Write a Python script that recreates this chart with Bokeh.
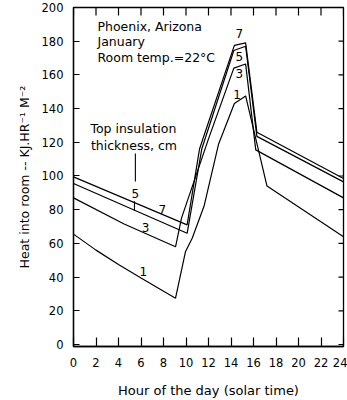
from bokeh.plotting import figure
from bokeh.models import FixedTicker, Label
from bokeh.embed import file_html
from bokeh.resources import INLINE

# ---- data ----
x_ticks = [0, 2, 4, 6, 8, 10, 12, 14, 16, 18, 20, 22, 24]
y_ticks = [0, 20, 40, 60, 80, 100, 120, 140, 160, 180, 200]

h1 = [0, 2, 4, 6, 9.07, 9.95, 10.55, 11.6, 12.9, 14.3, 15.3, 17.2, 24]
v1 = [65.5, 56, 47.5, 39.5, 27.5, 55, 63, 82, 119, 143, 147.5, 94, 64]

h3 = [0, 4.5, 9.07, 9.6, 12.0, 14.25, 15.3, 16.2, 24]
v3 = [87, 71.5, 58, 75, 122, 164, 166.5, 115.5, 87]

h5 = [0, 10.1, 11.4, 14.25, 15.3, 16.3, 24]
v5 = [95.5, 66, 116, 174.5, 177, 123.5, 96.5]

h7 = [0, 10.1, 11.2, 14.3, 15.3, 16.3, 24]
v7 = [99.5, 71, 116, 177.5, 179, 126, 98.5]

FONT = "DejaVu Sans"
X0, X1 = 0, 24
Y0, Y1 = -1.2, 200

p = figure(width=347, height=400, output_backend="svg", toolbar_location=None,
           x_range=(X0, X1), y_range=(Y0, Y1),
           min_border_left=73, min_border_right=4, min_border_top=7, min_border_bottom=10)
p.grid.visible = False
p.outline_line_color = "black"
p.outline_line_width = 1.3

for hh, vv in [(h1, v1), (h3, v3), (h5, v5), (h7, v7)]:
    p.line(hh, vv, line_color="black", line_width=1.2)

def style_axis(ax, tick_in):
    ax.axis_line_color = "black"
    ax.axis_line_width = 1.3
    ax.major_tick_in = tick_in
    ax.major_tick_out = 0
    ax.minor_tick_line_color = None
    ax.major_tick_line_color = "black"
    ax.major_tick_line_width = 1.2
    ax.major_label_text_font = FONT
    ax.major_label_text_font_size = "11.5px"
    ax.major_label_text_color = "black"
    ax.axis_label_text_color = "black"
    ax.axis_label_text_font = FONT
    ax.axis_label_text_font_style = "normal"

xa = p.xaxis[0]
xa.ticker = FixedTicker(ticks=x_ticks)
style_axis(xa, 9)
xa.major_label_standoff = 11
xa.axis_label = "Hour of the day (solar time)"
xa.axis_label_text_font_size = "13px"
xa.axis_label_standoff = 13

ya = p.yaxis[0]
ya.ticker = FixedTicker(ticks=y_ticks)
style_axis(ya, 6)
ya.major_label_standoff = 10
ya.axis_label = "Heat into room -- KJ.HR\u207b\u00b9 M\u207b\u00b2"
ya.axis_label_text_font_size = "12.5px"
ya.axis_label_standoff = 7

# inward ticks on the top and right edges of the frame
top_len = 8 * (Y1 - Y0) / 341.0
right_len = 5 * (X1 - X0) / 270.0
p.segment(x0=x_ticks, y0=[Y1] * len(x_ticks), x1=x_ticks, y1=[Y1 - top_len] * len(x_ticks),
          line_color="black", line_width=1.2)
p.segment(x0=[X1] * len(y_ticks), y0=y_ticks, x1=[X1 - right_len] * len(y_ticks), y1=y_ticks,
          line_color="black", line_width=1.2)

def lab(x, y, t, align="left", size="12.5px"):
    p.add_layout(Label(x=x, y=y, text=t, text_font=FONT, text_font_size=size,
                       text_align=align, text_baseline="middle", text_color="black"))

lab(2.13, 188.7, "Phoenix, Arizona")
lab(2.13, 179.7, "January")
lab(2.13, 170.3, "Room temp.=22\u00b0C")
lab(1.5, 128.2, "Top insulation")
lab(1.55, 118.3, "thickness, cm")

# leader line and tick
p.segment(x0=[5.5, 5.42], y0=[113.4, 85], x1=[5.5, 5.42], y1=[96.7, 79.5],
          line_color="black", line_width=1.1)

lab(5.5, 89.6, "5", "center", "12px")
lab(7.9, 80.0, "7", "center", "12px")
lab(6.4, 69.4, "3", "center", "12px")
lab(6.2, 43.3, "1", "center", "12px")
lab(14.75, 184.3, "7", "center", "12px")
lab(14.75, 171.0, "5", "center", "12px")
lab(14.75, 160.8, "3", "center", "12px")
lab(14.55, 148.4, "1", "center", "12px")

open("out.html", "w").write(file_html(p, INLINE))
